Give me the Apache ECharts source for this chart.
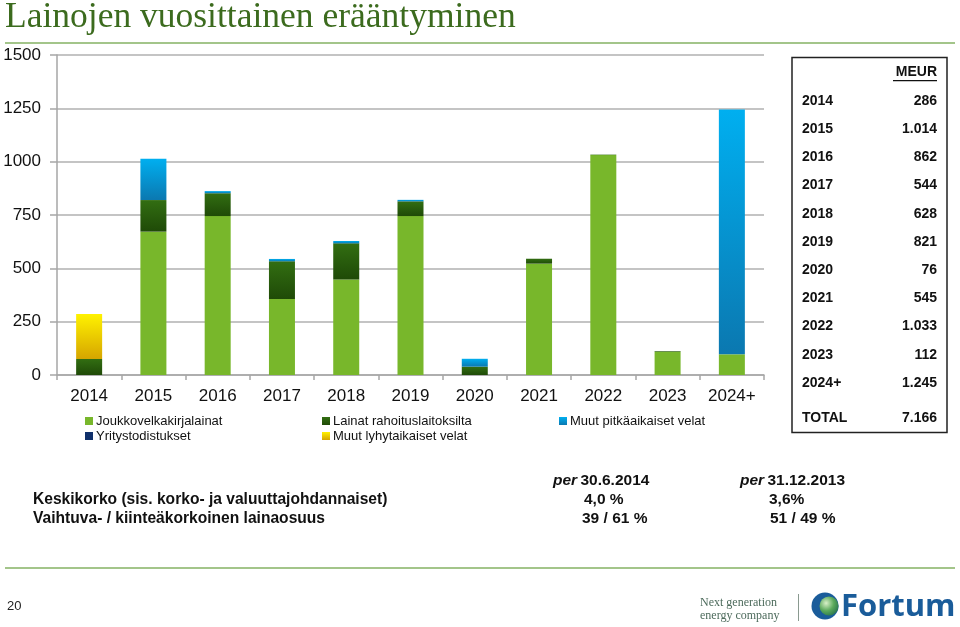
<!DOCTYPE html>
<html>
<head>
<meta charset="utf-8">
<script src="https://cdn.jsdelivr.net/npm/echarts@6/dist/echarts.min.js"></script>
<style>
html,body{margin:0;padding:0;background:#fff;}
#chart{width:960px;height:627px;}
</style>
</head>
<body>
<div id="chart"></div>
<script>
// ---- data ----
var categories = ['2014','2015','2016','2017','2018','2019','2020','2021','2022','2023','2024+'];
var joukkovelkakirjalainat = [0, 672, 745, 356, 448, 745, 0, 522, 1031, 109, 97];
var lainatRahoituslaitoksilta = [75, 148, 107, 177, 169, 69, 39, 23, 2, 3, 0];
var muutPitkaaikaisetVelat = [0, 194, 10, 11, 11, 7, 37, 0, 0, 0, 1148];
var yritystodistukset = [0, 0, 0, 0, 0, 0, 0, 0, 0, 0, 0];
var muutLyhytaikaisetVelat = [211, 0, 0, 0, 0, 0, 0, 0, 0, 0, 0];
var yTicks = [0, 250, 500, 750, 1000, 1250, 1500];
var tableYears = ['2014','2015','2016','2017','2018','2019','2020','2021','2022','2023','2024+'];
var tableTotals = ['286','1.014','862','544','628','821','76','545','1.033','112','1.245'];
var tableTotalLabel = 'TOTAL';
var tableTotalValue = '7.166';
var infoHeaders = ['per 30.6.2014', 'per 31.12.2013'];
var infoRows = ['Keskikorko (sis. korko- ja valuuttajohdannaiset)', 'Vaihtuva- / kiinteäkorkoinen lainaosuus'];
var infoCol1 = ['4,0 %', '39 / 61 %'];
var infoCol2 = ['3,6%', '51 / 49 %'];

var chart = echarts.init(document.getElementById('chart'), null, {renderer: 'canvas'});
var FONT = 'Liberation Sans, Arial, sans-serif';

function grad(top, bottom) {
  return new echarts.graphic.LinearGradient(0, 0, 0, 1, [{offset: 0, color: top}, {offset: 1, color: bottom}]);
}

var graphics = [];
// title
graphics.push({type: 'text', left: 5, top: 0, style: {text: 'Lainojen vuosittainen erääntyminen', font: '35.5px "Liberation Serif", "Times New Roman", serif', fill: '#3c6b1e'}});
graphics.push({type: 'rect', shape: {x: 5, y: 42, width: 950, height: 2}, style: {fill: '#a3c58a'}});
// table box
graphics.push({type: 'rect', shape: {x: 792, y: 57.5, width: 155, height: 375}, style: {fill: 'none', stroke: '#222', lineWidth: 1.5}});
graphics.push({type: 'text', x: 937, y: 72, style: {text: 'MEUR', font: 'bold 14px ' + FONT, fill: '#111', textAlign: 'right', textVerticalAlign: 'middle'}});
graphics.push({type: 'rect', shape: {x: 893, y: 80, width: 44, height: 1.3}, style: {fill: '#111'}});
for (var i = 0; i < tableYears.length; i++) {
  var yy = 101 + i * 28.2;
  graphics.push({type: 'text', x: 802, y: yy, style: {text: tableYears[i], font: 'bold 14px ' + FONT, fill: '#111', textVerticalAlign: 'middle'}});
  graphics.push({type: 'text', x: 937, y: yy, style: {text: tableTotals[i], font: 'bold 14px ' + FONT, fill: '#111', textAlign: 'right', textVerticalAlign: 'middle'}});
}
graphics.push({type: 'text', x: 802, y: 418, style: {text: tableTotalLabel, font: 'bold 14px ' + FONT, fill: '#111', textVerticalAlign: 'middle'}});
graphics.push({type: 'text', x: 937, y: 418, style: {text: tableTotalValue, font: 'bold 14px ' + FONT, fill: '#111', textAlign: 'right', textVerticalAlign: 'middle'}});
// info block
var hdrX = [553, 740];
for (var h = 0; h < infoHeaders.length; h++) {
  var parts = infoHeaders[h].split(' ');
  graphics.push({type: 'text', x: hdrX[h], y: 481, style: {
    text: '{i|' + parts[0] + '} {b|' + parts.slice(1).join(' ') + '}',
    textVerticalAlign: 'middle',
    rich: {i: {font: 'italic bold 15.5px ' + FONT, fill: '#111'}, b: {font: 'bold 15.5px ' + FONT, fill: '#111'}}
  }});
}
var rowY = [500, 519];
var c1X = [584, 582], c2X = [769, 770];
for (var r = 0; r < infoRows.length; r++) {
  graphics.push({type: 'text', x: 33, y: rowY[r], style: {text: infoRows[r], font: 'bold 15.6px ' + FONT, fill: '#111', textVerticalAlign: 'middle'}});
  graphics.push({type: 'text', x: c1X[r], y: rowY[r], style: {text: infoCol1[r], font: 'bold 15.5px ' + FONT, fill: '#111', textVerticalAlign: 'middle'}});
  graphics.push({type: 'text', x: c2X[r], y: rowY[r], style: {text: infoCol2[r], font: 'bold 15.5px ' + FONT, fill: '#111', textVerticalAlign: 'middle'}});
}
// footer
graphics.push({type: 'rect', shape: {x: 5, y: 567, width: 950, height: 2}, style: {fill: '#a3c58a'}});
graphics.push({type: 'text', x: 7, y: 606, style: {text: '20', font: '13px ' + FONT, fill: '#222', textVerticalAlign: 'middle'}});
graphics.push({type: 'text', x: 700, y: 603, style: {text: 'Next generation', font: '12px "Liberation Serif", serif', fill: '#4d6b5c', textVerticalAlign: 'middle'}});
graphics.push({type: 'text', x: 700, y: 616, style: {text: 'energy company', font: '12px "Liberation Serif", serif', fill: '#4d6b5c', textVerticalAlign: 'middle'}});
graphics.push({type: 'rect', shape: {x: 798, y: 594, width: 1, height: 27}, style: {fill: '#8a9a90'}});
graphics.push({type: 'circle', shape: {cx: 825, cy: 606, r: 13.5}, style: {fill: '#1a5c9a'}});
graphics.push({type: 'circle', shape: {cx: 829, cy: 606, r: 9.5}, style: {fill: new echarts.graphic.RadialGradient(0.35, 0.35, 0.8, [{offset: 0, color: '#d8f0c8'}, {offset: 0.5, color: '#5caa5c'}, {offset: 1, color: '#1e6a4a'}])}});
graphics.push({type: 'text', x: 841, y: 607, style: {text: 'Fortum', font: 'bold 31px "Open Sans", ' + FONT, fill: '#1a5c9a', textVerticalAlign: 'middle'}});

var legendText = {fontSize: 13, color: '#111', fontFamily: FONT, lineHeight: 14, padding: [0, 0, 0, -2]};
var option = {
  backgroundColor: '#fff',
  animation: false,
  textStyle: {fontFamily: FONT},
  grid: {left: 57, right: 196, top: 55, bottom: 252, containLabel: false, outerBoundsMode: 'none'},
  legend: [
    {left: 80, top: 409, orient: 'vertical', itemWidth: 8, itemHeight: 8, itemGap: 1, icon: 'rect',
     textStyle: legendText, data: ['Joukkovelkakirjalainat', 'Yritystodistukset']},
    {left: 317, top: 409, orient: 'vertical', itemWidth: 8, itemHeight: 8, itemGap: 1, icon: 'rect',
     textStyle: legendText, data: ['Lainat rahoituslaitoksilta', 'Muut lyhytaikaiset velat']},
    {left: 554, top: 409, orient: 'vertical', itemWidth: 8, itemHeight: 8, itemGap: 1, icon: 'rect',
     textStyle: legendText, data: ['Muut pitkäaikaiset velat']}
  ],
  xAxis: {
    type: 'category', data: categories, boundaryGap: true,
    axisLine: {lineStyle: {color: '#a6a6a6', width: 1.5}},
    axisTick: {show: true, length: 5, lineStyle: {color: '#a6a6a6', width: 1.5}},
    axisLabel: {fontSize: 17, color: '#111', margin: 13, fontFamily: FONT}
  },
  yAxis: {
    type: 'value', min: yTicks[0], max: yTicks[yTicks.length - 1], interval: yTicks[1] - yTicks[0],
    axisLine: {show: true, lineStyle: {color: '#a6a6a6', width: 1.5}},
    axisTick: {show: true, length: 7, lineStyle: {color: '#a6a6a6', width: 1.5}},
    splitLine: {lineStyle: {color: '#b0b0b0', width: 1.5}},
    axisLabel: {fontSize: 17, color: '#111', margin: 16, fontFamily: FONT, formatter: function (v) { return String(v); }}
  },
  series: [
    {name: 'Joukkovelkakirjalainat', type: 'bar', stack: 't', barWidth: 26, data: joukkovelkakirjalainat,
     itemStyle: {color: '#78b72b'}},
    {name: 'Lainat rahoituslaitoksilta', type: 'bar', stack: 't', data: lainatRahoituslaitoksilta,
     itemStyle: {color: grad('#326e12', '#1f4a07')}},
    {name: 'Muut pitkäaikaiset velat', type: 'bar', stack: 't', data: muutPitkaaikaisetVelat,
     itemStyle: {color: grad('#00aff0', '#0b78b0')}},
    {name: 'Yritystodistukset', type: 'bar', stack: 't', data: yritystodistukset,
     itemStyle: {color: '#10306b'}},
    {name: 'Muut lyhytaikaiset velat', type: 'bar', stack: 't', data: muutLyhytaikaisetVelat,
     itemStyle: {color: grad('#fff200', '#d6a500')}}
  ],
  graphic: graphics
};
chart.setOption(option);
</script>
</body>
</html>
